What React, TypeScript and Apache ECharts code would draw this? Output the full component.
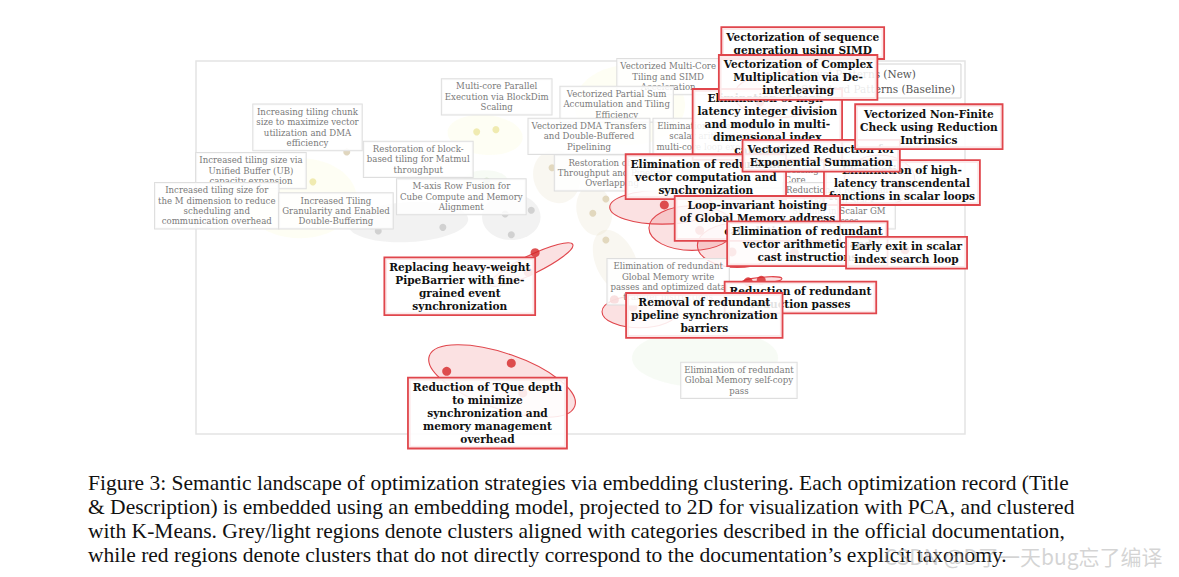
import React, { useEffect, useRef } from 'react';
import * as echarts from 'echarts';

// ---------- data (PCA plane, arbitrary units) ----------
const novelPoints: number[][] = [
  [6.09, 3.07], [4.41, 2.43], [3.26, 0.84], [4.10, 0.95], [7.35, 2.06], [7.18, 2.04],
  [4.32, 2.17], [4.25, 0.55], [6.55, 2.73], [6.97, 2.44], [7.78, 2.43], [5.44, 1.80],
  [5.68, 1.70], [7.79, 4.85], [7.33, 4.45], [9.54, 4.10], [8.14, 3.80], [9.15, 3.34], [9.22, 2.47],
];
const baselinePoints: number[][] = [
  [1.96, 3.78], [1.52, 3.38], [3.65, 4.05], [3.90, 4.08], [2.37, 2.72], [3.21, 2.77],
  [4.02, 2.95], [4.36, 3.00], [4.10, 2.67], [3.78, 3.39], [4.63, 3.57], [5.33, 3.38],
  [5.33, 3.15], [5.16, 2.96], [5.33, 2.60],
];
const baselineCluster: number[] = [1, 0, 0, 0, 2, 2, 2, 2, 2, 4, 3, 3, 3, 3, 3];

// ellipses: [cx, cy, rx, ry, angleDeg]
const lightClusters: number[][] = [
  [1.35, 3.16, 0.74, 0.52, 0], [3.76, 4.01, 0.49, 0.26, -5], [2.76, 2.84, 0.78, 0.26, 3],
  [4.10, 2.91, 0.38, 0.30, 0], [3.76, 3.40, 0.29, 0.13, 0], [4.69, 3.45, 0.30, 0.35, 20],
  [5.18, 3.00, 0.23, 0.33, 10], [5.46, 2.31, 0.26, 0.44, 25], [6.62, 1.02, 0.95, 0.38, 0],
  [5.64, 4.41, 0.72, 0.52, 0],
];
const lightClusterKind: number[] = [0, 0, 2, 2, 4, 3, 3, 3, 4, 0];
const novelClusters: number[][] = [
  [4.36, 2.27, 0.60, 0.12, 26], [3.98, 0.71, 1.0, 0.36, -19], [6.06, 3.04, 0.68, 0.22, 0],
  [6.45, 2.76, 0.56, 0.29, 0], [7.04, 2.53, 0.52, 0.29, 0], [7.36, 2.06, 0.26, 0.04, 5],
  [5.77, 1.64, 0.49, 0.21, 0], [7.59, 4.54, 0.59, 0.29, 0], [8.89, 3.40, 0.46, 0.33, 0],
];

const greyLabelText: string[] = [
  'Multi-core Parallel\nExecution via BlockDim\nScaling',
  'Increasing tiling chunk\nsize to maximize vector\nutilization and DMA\nefficiency',
  'Restoration of block-\nbased tiling for Matmul\nthroughput',
  'Increased tiling size via\nUnified Buffer (UB)\ncapacity expansion',
  'Increased tiling size for\nthe M dimension to reduce\nscheduling and\ncommunication overhead',
  'Increased Tiling\nGranularity and Enabled\nDouble-Buffering',
  'M-axis Row Fusion for\nCube Compute and Memory\nAlignment',
  'Vectorized Multi-Core\nTiling and SIMD\nAcceleration',
  'Vectorized Partial Sum\nAccumulation and Tiling\nEfficiency',
  'Vectorized DMA Transfers\nand Double-Buffered\nPipelining',
  'Elimination of redundant\nscalar arithmetic in\nmulti-core loop execution',
  'Restoration of Cube\nThroughput and Pipeline\nOverlapping',
  'Elimination of redundant\nGlobal Memory write\npasses and optimized data\ntransfer instructions',
  'Elimination of redundant\nGlobal Memory self-copy\npass',
  'Elimination of scalar\nbranching in Vector\nProcessing\nCore',
  'Reduction of Redundant\nLoads and Stack\nSpilling in Scalar GM\nAccesses',
];
const greyLabelPos: number[][] = [
  [3.91, 4.52], [1.45, 4.11], [2.89, 3.68], [0.715, 3.53], [0.27, 3.06], [1.82, 2.99],
  [3.45, 3.18], [6.14, 4.79], [5.47, 4.42], [5.11, 3.99], [6.71, 3.99], [5.41, 3.50],
  [6.14, 2.04], [7.06, 0.72], [7.79, 3.61], [8.36, 3.06],
];

// drawn bottom to top
const redLabelText: string[] = [
  'Vectorization of sequence\ngeneration using SIMD',
  'Elimination of high-\nlatency integer division\nand modulo in multi-\ndimensional index\ncalculation',
  'Vectorization of Complex\nMultiplication via De-\ninterleaving',
  'Elimination of high-\nlatency transcendental\nfunctions in scalar loops',
  'Elimination of redundant\nvector computation and\nsynchronization',
  'Vectorized Reduction for\nExponential Summation',
  'Vectorized Non-Finite\nCheck using Reduction\nIntrinsics',
  'Loop-invariant hoisting\nof Global Memory address\ncalculation',
  'Elimination of redundant\nvector arithmetic and\ncast instructions',
  'Early exit in scalar\nindex search loop',
  'Replacing heavy-weight\nPipeBarrier with fine-\ngrained event\nsynchronization',
  'Reduction of redundant\nreduction passes',
  'Removal of redundant\npipeline synchronization\nbarriers',
  'Reduction of TQue depth\nto minimize\nsynchronization and\nmemory management\noverhead',
];
const redLabelPos: number[][] = [
  [7.89, 5.24], [7.43, 4.15], [7.83, 4.78], [9.18, 3.37], [6.63, 3.45], [8.13, 3.73],
  [9.53, 4.12], [7.30, 2.89], [7.95, 2.55], [9.24, 2.43], [3.43, 1.98], [7.86, 1.83],
  [6.61, 1.59], [3.79, 0.28],
];

const seriesNames = ['Novel Patterns (New)', 'Standard Patterns (Baseline)'];

const captionLines: string[] = [
  'Figure 3: Semantic landscape of optimization strategies via embedding clustering. Each optimization record (Title',
  '& Description) is embedded using an embedding model, projected to 2D for visualization with PCA, and clustered',
  'with K-Means. Grey/light regions denote clusters aligned with categories described in the official documentation,',
  'while red regions denote clusters that do not directly correspond to the documentation\u2019s explicit taxonomy.',
];
const watermark = 'CSDN @D\u4e86\u4e00\u5929bug\u5fd8\u4e86\u7f16\u8bd1';

// ---------- styles ----------
const pointPalette = ['#ece6a0', '#d8ccae', '#c8c8c8', '#dcd0b2', '#cddfc2'];
const ellipsePalette = [
  'rgba(250,245,170,0.13)', 'rgba(215,200,160,0.14)', 'rgba(190,190,190,0.2)',
  'rgba(215,200,160,0.15)', 'rgba(200,225,190,0.15)',
];

export default function App() {
  const ref = useRef<HTMLDivElement>(null);
  useEffect(() => {
    const chart = echarts.init(ref.current as HTMLDivElement, null, { renderer: 'svg' });

    const ellipseRenderer = (kind: 'light' | 'red') => (params: any, api: any) => {
      const c = api.coord([api.value(0), api.value(1)]);
      const unit = api.size([1, 0])[0];
      const fill = kind === 'red' ? 'rgba(228,70,76,0.16)' : ellipsePalette[lightClusterKind[params.dataIndex]];
      return {
        type: 'ellipse',
        x: c[0],
        y: c[1],
        rotation: (api.value(4) * Math.PI) / 180,
        shape: { cx: 0, cy: 0, rx: api.value(2) * unit, ry: api.value(3) * unit },
        style: {
          fill,
          stroke: kind === 'red' ? '#e0464c' : 'rgba(0,0,0,0)',
          lineWidth: kind === 'red' ? 1.1 : 0,
        },
      };
    };

    const labelRenderer = (kind: 'grey' | 'red') => (params: any, api: any) => {
      const c = api.coord([api.value(0), api.value(1)]);
      const isRed = kind === 'red';
      return {
        type: 'text',
        x: c[0],
        y: c[1],
        z2: params.dataIndex,
        style: {
          text: isRed ? redLabelText[params.dataIndex] : greyLabelText[params.dataIndex],
          font: isRed ? 'bold 10.6px "DejaVu Serif"' : '8.6px "DejaVu Serif"',
          fill: isRed ? '#111' : '#7a7a7a',
          align: 'center',
          verticalAlign: 'middle',
          lineHeight: isRed ? 13 : 10.4,
          backgroundColor: isRed ? 'rgba(255,255,255,0.88)' : 'rgba(255,255,255,0.82)',
          borderColor: isRed ? '#e0464c' : '#dedede',
          borderWidth: isRed ? 1.8 : 1,
          padding: isRed ? [2, 4] : [2, 3],
        },
      };
    };

    chart.setOption({
      animation: false,
      grid: {
        left: 196, top: 61, width: 769, height: 373, show: true,
        borderColor: '#e4e4e4', borderWidth: 1.5, backgroundColor: 'transparent',
      },
      xAxis: { type: 'value', min: 0, max: 10, show: false },
      yAxis: { type: 'value', min: 0, max: 5, show: false },
      legend: {
        data: seriesNames,
        orient: 'vertical',
        left: 779, top: 64,
        itemWidth: 9, itemHeight: 9, itemGap: 4,
        icon: 'circle',
        padding: [4, 6, 4, 8],
        backgroundColor: '#fff',
        borderColor: '#d4d4d4', borderWidth: 1,
        textStyle: { fontFamily: 'DejaVu Serif', fontSize: 10.5, color: '#555' },
        z: 3,
      },
      series: [
        { type: 'custom', name: 'light-regions', z: 1, silent: true, clip: false, data: lightClusters, renderItem: ellipseRenderer('light') },
        { type: 'custom', name: 'red-regions', z: 2, silent: true, clip: false, data: novelClusters, renderItem: ellipseRenderer('red') },
        {
          type: 'scatter', name: seriesNames[1], z: 2.5, symbolSize: 7,
          itemStyle: { color: '#c4c4c4' },
          data: baselinePoints.map((p, i) => ({ value: p, itemStyle: { color: pointPalette[baselineCluster[i]] } })),
        },
        { type: 'scatter', name: seriesNames[0], z: 2.6, symbolSize: 9, itemStyle: { color: '#d62728' }, data: novelPoints },
        { type: 'custom', name: 'grey-labels', z: 5, silent: true, clip: false, data: greyLabelPos, renderItem: labelRenderer('grey') },
        { type: 'custom', name: 'red-labels', z: 10, silent: true, clip: false, data: redLabelPos, renderItem: labelRenderer('red') },
      ],
      graphic: [
        ...captionLines.map((t, i) => ({
          type: 'text', x: 88, y: 483 + i * 24,
          style: { text: t, font: '21.5px "Liberation Serif"', fill: '#111', align: 'left', verticalAlign: 'middle' },
        })),
        {
          type: 'text', x: 884, y: 556, z: 50,
          style: { text: watermark, font: '21px "Noto Sans CJK SC"', fill: 'rgba(170,170,170,0.5)', align: 'left', verticalAlign: 'middle' },
        },
      ],
    });
    return () => chart.dispose();
  }, []);
  return <div ref={ref} style={{ position: 'absolute', left: 0, top: 0, width: 1179, height: 577 }} />;
}
